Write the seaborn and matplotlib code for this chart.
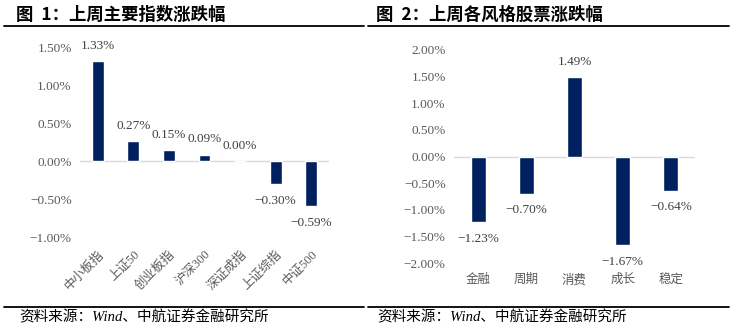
import matplotlib
matplotlib.use("Agg")
import matplotlib.pyplot as plt
import seaborn as sns
import pandas as pd
from matplotlib.ticker import FuncFormatter, MultipleLocator
from matplotlib.lines import Line2D

# ---- data ----
index_names = ["中小板指", "上证50", "创业板指", "沪深300", "深证成指", "上证综指", "中证500"]
index_changes = [1.33, 0.27, 0.15, 0.09, 0.00, -0.30, -0.59]

style_names = ["金融", "周期", "消费", "成长", "稳定"]
style_changes = [-1.23, -0.70, 1.49, -1.67, -0.64]

title_left = "图  1：上周主要指数涨跌幅"
title_right = "图  2：上周各风格股票涨跌幅"
source_text = "资料来源：Wind、中航证券金融研究所"

BAR = "#002060"
TICK = "#595959"
LABEL = "#404040"

sns.set_theme(style="white")
plt.rcParams["font.family"] = ["Liberation Serif", "Noto Sans CJK SC", "DejaVu Sans"]
plt.rcParams["axes.unicode_minus"] = True

fig = plt.figure(figsize=(7.32, 3.31), dpi=100)
W, H = 732, 331

def fx(px):
    return px / W

def fy(py):
    return 1 - py / H

def pct(v, pos=None):
    s = f"{abs(v):.2f}%"
    return ("\u2212" + s) if v < -1e-9 else s

def style_axes(ax):
    for sp in ax.spines.values():
        sp.set_visible(False)
    ax.axhline(0, color="#d9d9d9", lw=1.0, zorder=0)
    ax.yaxis.set_major_formatter(FuncFormatter(pct))
    ax.tick_params(axis="y", length=0, pad=6, labelsize=9.5, labelcolor=TICK)
    ax.set_xlabel("")
    ax.set_ylabel("")
    ax.grid(False)

def add_labels(ax, vals, off_pos, off_neg):
    for i, v in enumerate(vals):
        if v >= 0:
            ax.annotate(pct(v), (i, v), xytext=(0, off_pos), textcoords="offset points",
                        ha="center", va="center", fontsize=9.5, color=LABEL, annotation_clip=False)
        else:
            ax.annotate(pct(v), (i, v), xytext=(0, -off_neg), textcoords="offset points",
                        ha="center", va="center", fontsize=9.5, color=LABEL, annotation_clip=False)

# ---- left chart ----
axL = fig.add_axes([fx(80), fy(237), fx(329 - 80), (237 - 48) / H])
dfL = pd.DataFrame({"name": index_names, "chg": index_changes})
sns.barplot(data=dfL, x="name", y="chg", ax=axL, color=BAR, saturation=1, width=0.33)
axL.set_ylim(-1.0, 1.5)
axL.set_xlim(-0.5, len(index_names) - 0.5)
axL.yaxis.set_major_locator(MultipleLocator(0.5))
style_axes(axL)
axL.tick_params(axis="x", length=0, pad=8, labelsize=9, labelcolor=TICK)
for t in axL.get_xticklabels():
    t.set_rotation(45)
    t.set_ha("right")
    t.set_rotation_mode("anchor")
add_labels(axL, index_changes, 11, 12)

# ---- right chart ----
axR = fig.add_axes([fx(454), fy(263), fx(695 - 454), (263 - 50) / H])
dfR = pd.DataFrame({"name": style_names, "chg": style_changes})
sns.barplot(data=dfR, x="name", y="chg", ax=axR, color=BAR, saturation=1, width=0.31)
axR.set_ylim(-2.0, 2.0)
axR.set_xlim(-0.5, len(style_names) - 0.5)
axR.yaxis.set_major_locator(MultipleLocator(0.5))
style_axes(axR)
axR.tick_params(axis="x", length=0, pad=8, labelsize=9, labelcolor=TICK)
add_labels(axR, style_changes, 11, 12)

# ---- titles, rules, sources ----
fig.text(fx(16), fy(15), title_left, fontsize=12.5, fontweight="bold", ha="left", va="center",
         family=["Noto Sans CJK SC", "DejaVu Sans"], color="black")
fig.text(fx(376), fy(15), title_right, fontsize=12.5, fontweight="bold", ha="left", va="center",
         family=["Noto Sans CJK SC", "DejaVu Sans"], color="black")

for (x0, x1) in [(4, 364), (368, 729)]:
    fig.add_artist(Line2D([fx(x0), fx(x1)], [fy(25.5), fy(25.5)], color="black", lw=1.3))
    fig.add_artist(Line2D([fx(x0), fx(x1)], [fy(307), fy(307)], color="black", lw=1.3))

fig.text(fx(19), fy(317), source_text, fontsize=10.5, style="italic", ha="left", va="center",
         color="black")
fig.text(fx(377), fy(317), source_text, fontsize=10.5, style="italic", ha="left", va="center",
         color="black")

fig.savefig("out.png", dpi=100, facecolor="white")
